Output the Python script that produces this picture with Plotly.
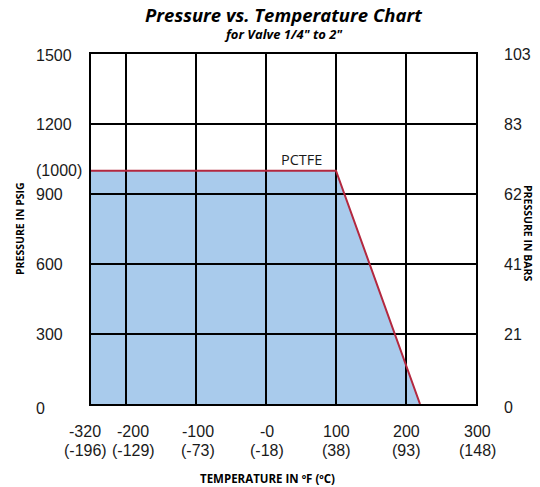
import numpy as np
import plotly.graph_objects as go

# ---- data ----
temp_ticks_f = [-320, -200, -100, 0, 100, 200, 300]
temp_ticks_c = ["(-196)", "(-129)", "(-73)", "(-18)", "(38)", "(93)", "(148)"]
temp_ticks_f_text = ["-320", "-200", "-100", "-0", "100", "200", "300"]
# axis positions of the (non-uniform) temperature ticks
temp_tick_pos = [-250, -200, -100, 0, 100, 200, 300]

psig_ticks = [0, 300, 600, 900, 1200, 1500]
bar_ticks_text = ["0", "21", "41", "62", "83", "103"]

curve_temp = [-320, 100, 220]
curve_psig = [1000, 1000, 0]
curve_label = "PCTFE"


def tpos(t):
    return np.interp(t, temp_ticks_f, temp_tick_pos)


cx = [float(v) for v in tpos(np.array(curve_temp))]

fig = go.Figure()
# filled area
fig.add_trace(go.Scatter(x=cx, y=curve_psig, mode="lines", fill="tozeroy",
                         fillcolor="#a9cbec", line=dict(width=0),
                         hoverinfo="skip", showlegend=False))
# grid lines drawn above the fill
gx, gy = [], []
for p in temp_tick_pos[1:-1]:
    gx += [p, p, None]
    gy += [0, 1500, None]
fig.add_trace(go.Scatter(x=gx, y=gy, mode="lines", line=dict(color="black", width=2),
                         hoverinfo="skip", showlegend=False))
hx, hy = [], []
for v in psig_ticks[1:-1]:
    hx += [temp_tick_pos[0], temp_tick_pos[-1], None]
    hy += [v, v, None]
fig.add_trace(go.Scatter(x=hx, y=hy, mode="lines", line=dict(color="black", width=2),
                         hoverinfo="skip", showlegend=False))
# rating curve
fig.add_trace(go.Scatter(x=cx, y=curve_psig, mode="lines",
                         line=dict(color="#b3283f", width=2),
                         hoverinfo="skip", showlegend=False))

tick_font = dict(family="Liberation Sans, Arial, sans-serif", size=16, color="#1a1a1a")
ann = []
# x tick labels (two lines)
xshifts = [-6, 7, 2, 1, 0, 0, 1]
for p, tf, tc, xs in zip(temp_tick_pos, temp_ticks_f_text, temp_ticks_c, xshifts):
    ann.append(dict(x=p, y=0, xref="x", yref="y", text=tf, showarrow=False,
                    xanchor="center", yanchor="middle", yshift=-27, xshift=xs, font=tick_font))
    ann.append(dict(x=p, y=0, xref="x", yref="y", text=tc, showarrow=False,
                    xanchor="center", yanchor="middle", yshift=-46, xshift=xs, font=tick_font))
# left y labels
left_vals = [0, 300, 600, 900, 1000, 1200, 1500]
left_text = ["0", "300", "600", "900", "(1000)", "1200", "1500"]
for v, t in zip(left_vals, left_text):
    ann.append(dict(x=0, y=v, xref="paper", yref="y", text=t, showarrow=False,
                    xanchor="left", yanchor="middle", xshift=-57,
                    yshift=(-4 if v == 0 else (-1 if v == 1500 else 0)), font=tick_font))
# right y labels
for v, t in zip(psig_ticks, bar_ticks_text):
    ann.append(dict(x=1, y=v, xref="paper", yref="y", text=t, showarrow=False,
                    xanchor="left", yanchor="middle", xshift=26,
                    yshift=(-3 if v == 0 else 0), font=tick_font))
# axis titles
title_font = dict(family="Open Sans, sans-serif", size=10.5, color="black")
ann.append(dict(x=0, y=0.5, xref="paper", yref="paper", text="<b>PRESSURE IN PSIG</b>",
                textangle=-90, showarrow=False, xanchor="center", yanchor="middle",
                xshift=-71, font=title_font))
ann.append(dict(x=1, y=0.5, xref="paper", yref="paper", text="<b>PRESSURE IN BARS</b>",
                textangle=90, showarrow=False, xanchor="center", yanchor="middle",
                xshift=52, yshift=-4, font=title_font))
ann.append(dict(x=0.5, y=0, xref="paper", yref="paper", text="<b>TEMPERATURE IN ºF (ºC)</b>",
                showarrow=False, xanchor="center", yanchor="middle", yshift=-74,
                xshift=-16, font=dict(family="Open Sans, sans-serif", size=11.5, color="black")))
# curve label
ann.append(dict(x=float(tpos(50)), y=1000, xref="x", yref="y", text=curve_label,
                showarrow=False, xanchor="center", yanchor="middle", yshift=11,
                font=dict(family="Open Sans, sans-serif", size=14.5, color="#1a1a1a")))
# titles
ann.append(dict(x=0.5, y=1, xref="paper", yref="paper",
                text="<b><i>Pressure vs. Temperature Chart</i></b>", showarrow=False,
                xanchor="center", yanchor="middle", yshift=40,
                font=dict(family="Open Sans, sans-serif", size=18.5, color="black")))
ann.append(dict(x=0.5, y=1, xref="paper", yref="paper",
                text="<b><i>for Valve 1/4\" to 2\"</i></b>", showarrow=False,
                xanchor="center", yanchor="middle", yshift=20,
                font=dict(family="Open Sans, sans-serif", size=13, color="black")))

fig.update_layout(
    width=540, height=487,
    margin=dict(l=91, r=64, t=54, b=83),
    paper_bgcolor="white", plot_bgcolor="white",
    showlegend=False,
    annotations=ann,
)
fig.update_xaxes(range=[temp_tick_pos[0], temp_tick_pos[-1]], showgrid=False, zeroline=False,
                 showticklabels=False, ticks="", showline=True, linecolor="black",
                 linewidth=2, mirror=True, fixedrange=True)
fig.update_yaxes(range=[0, 1500], showgrid=False, zeroline=False, showticklabels=False,
                 ticks="", showline=True, linecolor="black", linewidth=2, mirror=True,
                 fixedrange=True)

fig.write_html("out.html", config={"displayModeBar": False},
               post_script="document.body.style.margin='0';document.body.style.overflow='hidden';")
